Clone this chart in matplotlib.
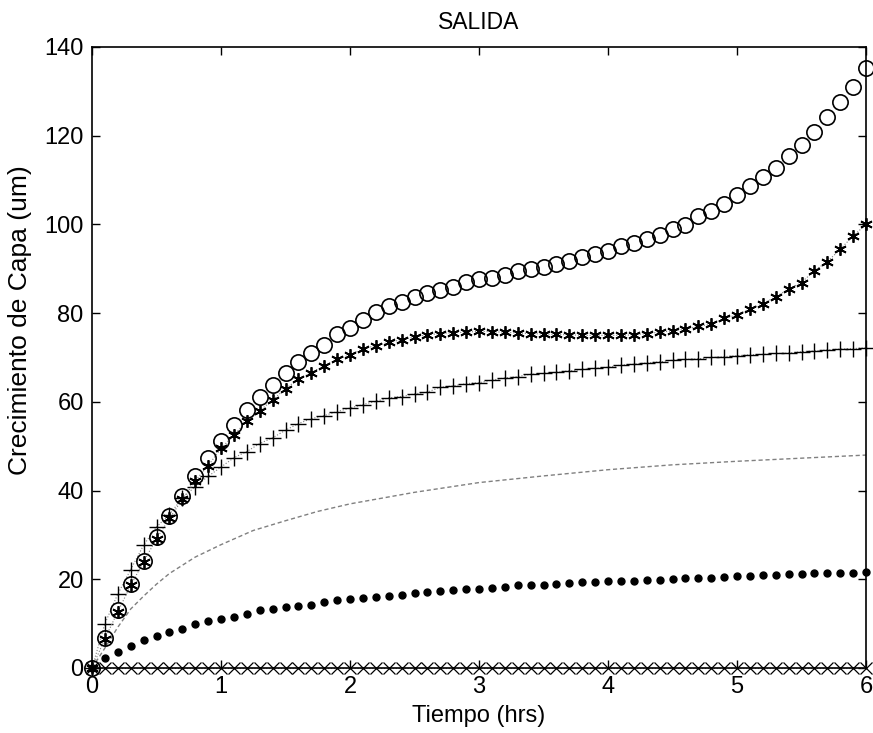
import numpy as np
from matplotlib import pyplot as plt

plt.rcParams['font.family'] = ['Liberation Sans', 'DejaVu Sans']

# time axis, one sample every 0.1 h
t = np.round(np.arange(0, 61) * 0.1, 1)

circ = [0, 6.8, 13.1, 19.0, 24.2, 29.5, 34.3, 38.8, 43.2, 47.4,
        51.1, 54.8, 58.2, 61.1, 63.8, 66.4, 69.0, 70.9, 72.8, 75.2,
        76.6, 78.4, 80.2, 81.5, 82.5, 83.6, 84.6, 85.2, 85.9, 87.0,
        87.6, 88.0, 88.6, 89.4, 90.0, 90.4, 91.0, 91.7, 92.6, 93.4,
        94.1, 95.2, 95.9, 96.8, 97.6, 98.9, 99.9, 101.8, 103.1, 104.7,
        106.6, 108.6, 110.7, 112.8, 115.5, 117.9, 120.8, 124.2, 127.6, 131.0,
        135.3]

star = [0, 6.6, 12.7, 18.6, 24.0, 29.1, 33.7, 38.0, 42.2, 45.6,
        49.5, 52.5, 55.7, 58.0, 60.4, 63.0, 65.1, 66.6, 68.1, 69.6,
        70.6, 71.9, 72.7, 73.4, 74.0, 74.6, 75.1, 75.4, 75.6, 75.7,
        75.9, 75.8, 75.7, 75.5, 75.4, 75.3, 75.2, 75.1, 75.0, 75.0,
        75.0, 75.0, 75.1, 75.4, 75.7, 76.0, 76.4, 77.0, 77.5, 78.8,
        79.6, 80.9, 82.1, 83.7, 85.4, 86.9, 89.6, 91.6, 94.4, 97.4,
        100.0]

plus = [0, 10.0, 16.7, 22.2, 27.7, 31.8, 34.6, 38.3, 40.9, 43.2,
        45.3, 47.4, 48.8, 50.6, 51.9, 53.6, 55.1, 56.2, 56.9, 57.8,
        58.6, 59.4, 60.1, 60.9, 61.2, 61.8, 62.2, 63.3, 63.6, 64.1,
        64.3, 64.9, 65.4, 65.7, 66.2, 66.4, 66.7, 67.0, 67.3, 67.6,
        67.8, 68.3, 68.5, 68.8, 69.0, 69.4, 69.6, 69.7, 70.0, 70.2,
        70.4, 70.6, 70.7, 70.9, 71.0, 71.3, 71.5, 71.7, 71.9, 72.0,
        72.2]

dots = [0, 2.2, 3.5, 4.9, 6.3, 7.1, 8.2, 8.9, 9.9, 10.7,
        11.0, 11.6, 12.2, 13.0, 13.3, 13.7, 14.0, 14.3, 14.8, 15.3,
        15.6, 15.8, 16.1, 16.3, 16.4, 16.9, 17.2, 17.4, 17.5, 17.7,
        17.9, 18.1, 18.3, 18.6, 18.8, 18.8, 19.0, 19.2, 19.3, 19.3,
        19.5, 19.6, 19.6, 19.8, 19.9, 20.0, 20.2, 20.3, 20.3, 20.6,
        20.8, 20.8, 20.9, 21.0, 21.1, 21.2, 21.4, 21.4, 21.4, 21.5,
        21.7]

zero = [0] * 61

# thin dashed curve (no markers)
t_line = [0, 0.1, 0.2, 0.3, 0.4, 0.5, 0.6, 0.8, 1.0, 1.25, 1.5, 1.75,
          2.0, 2.5, 3.0, 3.5, 4.0, 4.5, 5.0, 5.5, 6.0]
line = [0, 4.5, 9.2, 13.3, 16.2, 18.9, 21.3, 25.0, 27.8, 31.0, 33.2, 35.3,
        37.0, 39.6, 41.8, 43.3, 44.7, 45.8, 46.6, 47.3, 48.0]

fig = plt.figure(figsize=(8.73, 7.33), dpi=100)
ax = fig.add_axes([0.1054, 0.0887, 0.8866, 0.8472])

gray = '0.5'
ax.plot(t, zero, ':', color=gray, lw=0.8, clip_on=False)
ax.plot(t, zero, 'x', color='k', ms=8, mew=0.9, clip_on=False)
ax.plot(t_line, line, color=gray, lw=1.0, ls=(0, (3, 2)))
ax.plot(t, dots, 'o', color='k', ms=5, clip_on=False)
ax.plot(t, plus, ':', color=gray, lw=0.8)
ax.plot(t, plus, '+', color='k', ms=11, mew=1.0, clip_on=False)
ax.plot(t, star, ':', color=gray, lw=0.8)
ax.plot(t, star, marker=(6, 2, 0), ls='none', color='k', ms=9, mew=1.3, clip_on=False)
ax.plot(t, circ, 'o', mfc='none', mec='k', ms=11, mew=1.2, clip_on=False)

ax.set_xlim(0, 6)
ax.set_ylim(0, 140)
ax.set_xticks(range(0, 7))
ax.set_yticks(range(0, 141, 20))
ax.tick_params(direction='in', length=6, width=1, top=True, right=True,
               labelsize=17, pad=6)
for s in ax.spines.values():
    s.set_linewidth(1.2)

ax.set_title('SALIDA', fontsize=16.5, pad=13)
ax.set_xlabel('Tiempo (hrs)', fontsize=17, labelpad=5)
ax.set_ylabel('Crecimiento de Capa (um)', fontsize=19)
ax.yaxis.set_label_coords(-0.077, 0.56)

fig.savefig('out.png', dpi=100)
